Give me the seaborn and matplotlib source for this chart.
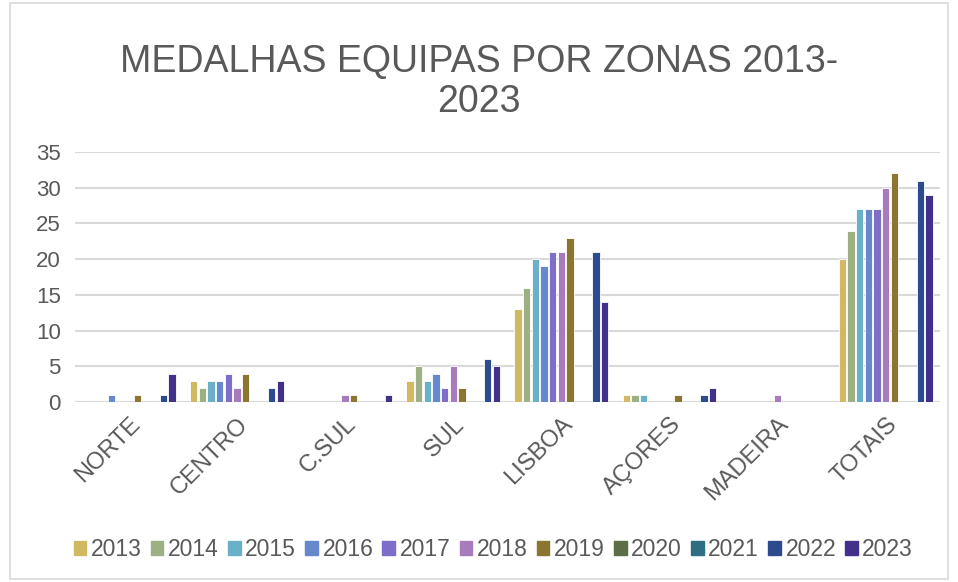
import matplotlib
matplotlib.use("Agg")
import matplotlib.pyplot as plt
import seaborn as sns
import pandas as pd
from matplotlib.patches import Rectangle

# Dados
zonas = ["NORTE", "CENTRO", "C.SUL", "SUL", "LISBOA", "AÇORES", "MADEIRA", "TOTAIS"]
anos = ["2013", "2014", "2015", "2016", "2017", "2018", "2019", "2020", "2021", "2022", "2023"]

medalhas = {
    "2013": [0, 3, 0, 3, 13, 1, 0, 20],
    "2014": [0, 2, 0, 5, 16, 1, 0, 24],
    "2015": [0, 3, 0, 3, 20, 1, 0, 27],
    "2016": [1, 3, 0, 4, 19, 0, 0, 27],
    "2017": [0, 4, 0, 2, 21, 0, 0, 27],
    "2018": [0, 2, 1, 5, 21, 0, 1, 30],
    "2019": [1, 4, 1, 2, 23, 1, 0, 32],
    "2020": [0, 0, 0, 0, 0, 0, 0, 0],
    "2021": [0, 0, 0, 0, 0, 0, 0, 0],
    "2022": [1, 2, 0, 6, 21, 1, 0, 31],
    "2023": [4, 3, 1, 5, 14, 2, 0, 29],
}

cores = ["#D1B962", "#9CB084", "#6BB0C9", "#6688CC", "#7E6DC9", "#A67CBD",
         "#8B7630", "#5B6E45", "#2D6E85", "#2E4A8F", "#43308A"]

linhas = []
for ano in anos:
    for zona, valor in zip(zonas, medalhas[ano]):
        linhas.append({"Zona": zona, "Ano": ano, "Medalhas": valor})
df = pd.DataFrame(linhas)

sns.set_style("white")
plt.rcParams["font.family"] = ["Liberation Sans", "DejaVu Sans"]
cinza = "#595959"

fig = plt.figure(figsize=(9.58, 5.82), dpi=100)
ax = fig.add_axes([0.078, 0.309, 0.903, 0.43])

sns.barplot(data=df, x="Zona", y="Medalhas", hue="Ano", order=zonas, hue_order=anos,
            palette=cores, width=0.88, gap=0.15, edgecolor="white", linewidth=0.6,
            saturation=1, ax=ax)

ax.set_ylim(0, 35)
ax.set_yticks(range(0, 36, 5))
ax.yaxis.grid(True, color="#D9D9D9", linewidth=1.5)
ax.set_axisbelow(True)
sns.despine(ax=ax, left=True, top=True, right=True, bottom=True)
ax.axhline(0, color="#D9D9D9", linewidth=1.5, zorder=0)
ax.set_xlabel("")
ax.set_ylabel("")
ax.tick_params(axis="y", length=0, labelsize=16, colors=cinza, pad=10)
ax.tick_params(axis="x", length=0, labelsize=17, colors=cinza, pad=8)
plt.setp(ax.get_xticklabels(), rotation=45, ha="right", rotation_mode="anchor")

fig.suptitle("MEDALHAS EQUIPAS POR ZONAS 2013-\n2023", y=0.925, fontsize=27,
             color=cinza, linespacing=1.15)

ax.legend_.remove()
handles = [Rectangle((0, 0), 1, 1, color=c) for c in cores]
fig.legend(handles, anos, loc="center", bbox_to_anchor=(0.515, 0.055), ncol=11,
           frameon=False, fontsize=16.5, labelcolor=cinza, handlelength=0.55,
           handleheight=0.55, handletextpad=0.2, columnspacing=0.4)

# moldura do gráfico
fig.patches.append(Rectangle((0.01, 0.005), 0.98, 0.99, transform=fig.transFigure,
                             fill=False, edgecolor="#D9D9D9", linewidth=1.2))

fig.savefig("out.png", dpi=100)
